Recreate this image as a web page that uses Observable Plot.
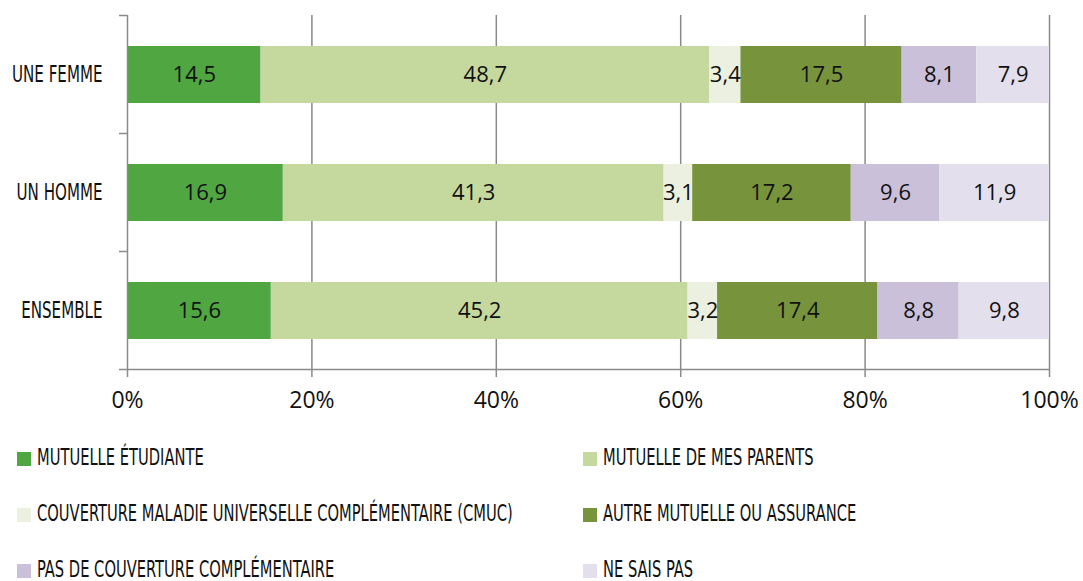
<!DOCTYPE html>
<html>
<head>
<meta charset="utf-8">
<script src="https://cdn.jsdelivr.net/npm/d3@7"></script>
<script src="https://cdn.jsdelivr.net/npm/@observablehq/plot@0.6"></script>
<style>
  html, body { margin: 0; padding: 0; background: #fff; }
  #chart svg { display: block; }
  .legend { display: grid; grid-template-columns: 566px auto; grid-auto-rows: 56px; padding: 9px 0 0 17px; width: 1066px; }
  .legend .item { display: flex; align-items: center; white-space: nowrap; font-family: "DejaVu Sans Condensed", "DejaVu Sans", sans-serif; font-stretch: condensed; font-size: 23px; color: #111; }
  .legend .sw { width: 14px; height: 14px; margin-right: 6px; margin-top: 3px; flex: none; }
  .legend .lab { display: inline-block; transform: scaleX(0.71); transform-origin: left center; }
</style>
</head>
<body>
<div id="chart"></div>
<div class="legend" id="legend"></div>
<script>
const categories = ["UNE FEMME", "UN HOMME", "ENSEMBLE"];
const types = [
  "MUTUELLE ÉTUDIANTE",
  "MUTUELLE DE MES PARENTS",
  "COUVERTURE MALADIE UNIVERSELLE COMPLÉMENTAIRE (CMUC)",
  "AUTRE MUTUELLE OU ASSURANCE",
  "PAS DE COUVERTURE COMPLÉMENTAIRE",
  "NE SAIS PAS"
];
const colors = ["#50a640", "#c5d89e", "#ebf0e0", "#77933c", "#cbc0da", "#e4dfec"];
const femme = [14.5, 48.7, 3.4, 17.5, 8.1, 7.9];
const homme = [16.9, 41.3, 3.1, 17.2, 9.6, 11.9];
const ensemble = [15.6, 45.2, 3.2, 17.4, 8.8, 9.8];
const xTicks = [0, 0.2, 0.4, 0.6, 0.8, 1];

const series = [femme, homme, ensemble];
const data = categories.flatMap((c, i) => types.map((t, j) => ({cat: c, type: t, value: series[i][j]})));
const fmt = v => v.toFixed(1).replace(".", ",");
const axisColor = "#8a8a8a";
const narrowFont = "'DejaVu Sans Condensed', 'DejaVu Sans', sans-serif";

const chart = Plot.plot({
  width: 1083,
  height: 420,
  marginLeft: 127,
  marginRight: 34,
  marginTop: 15,
  marginBottom: 51,
  x: {domain: [0, 1], label: null},
  y: {domain: categories, padding: 0, label: null},
  color: {domain: types, range: colors},
  style: {fontFamily: "'Open Sans', sans-serif", background: "#fff"},
  marks: [
    Plot.gridX(xTicks.slice(1), {stroke: axisColor, strokeWidth: 1.5, strokeOpacity: 1}),
    Plot.barX(data, Plot.stackX({x: "value", y: "cat", fill: "type", offset: "normalize", insetTop: 31, insetBottom: 30})),
    Plot.text(data, Plot.stackX({x: "value", y: "cat", text: d => fmt(d.value), offset: "normalize", fill: "#111", fontSize: 22, fontFamily: "'Open Sans', sans-serif"})),
    Plot.ruleX([0], {stroke: axisColor, strokeWidth: 1.5}),
    Plot.ruleY(categories, {y: d => d, x1: 0, x2: 0, dy: -59, insetLeft: -8, stroke: axisColor, strokeWidth: 1.5}),
    Plot.ruleY(categories.slice(-1), {y: d => d, x1: 0, x2: 1, dy: 59, insetLeft: -8, stroke: axisColor, strokeWidth: 1.5}),
    Plot.axisX(xTicks, {tickSize: 8, tickPadding: 14, label: null, stroke: axisColor, strokeWidth: 1.5, tickFormat: d => Math.round(d * 100) + "%", fontSize: 23, fill: "#111", fontFamily: "'Open Sans', sans-serif"}),
    Plot.axisY({tickSize: 0, tickPadding: 25, label: null, fontSize: 23, fill: "#111", fontFamily: narrowFont, className: "ylab"})
  ]
});
document.getElementById("chart").appendChild(chart);

// condense the category labels to mimic the narrow display face
chart.querySelectorAll(".ylab text").forEach(t => {
  const w = t.getComputedTextLength();
  t.setAttribute("textLength", (w * 0.73).toFixed(1));
  t.setAttribute("lengthAdjust", "spacingAndGlyphs");
});

const legend = document.getElementById("legend");
types.forEach((t, i) => {
  const item = document.createElement("div");
  item.className = "item";
  const sw = document.createElement("span");
  sw.className = "sw";
  sw.style.background = colors[i];
  const label = document.createElement("span");
  label.className = "lab";
  label.textContent = t;
  item.appendChild(sw);
  item.appendChild(label);
  legend.appendChild(item);
});
</script>
</body>
</html>
